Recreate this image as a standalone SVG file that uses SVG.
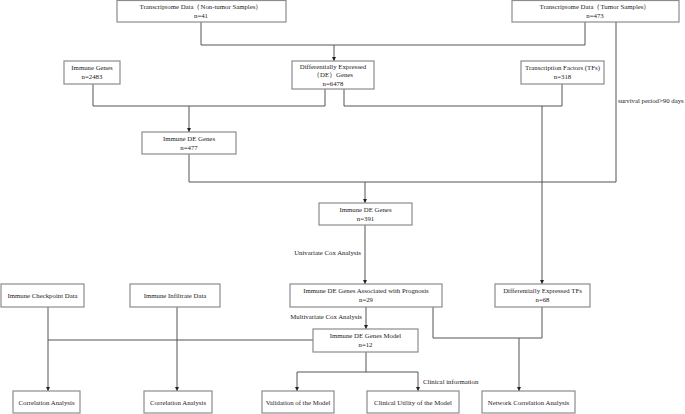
<svg xmlns="http://www.w3.org/2000/svg" width="685" height="414" viewBox="0 0 685 414">
<defs>
<marker id="ah" viewBox="0 0 6 6" refX="6" refY="3" markerWidth="4" markerHeight="4" orient="auto" markerUnits="userSpaceOnUse">
<path d="M0,0 L6,3 L0,6 Z" fill="#222"/>
</marker>
<style>
.box{fill:#fff;stroke:#8c8c8c;stroke-width:1.2}
.t{font-family:"Liberation Serif","Times New Roman",serif;font-size:6.8px;fill:#222;text-anchor:middle}
.lbl{font-family:"Liberation Serif","Times New Roman",serif;font-size:6.8px;fill:#222}
.c{fill:none;stroke:#555;stroke-width:1}
.a{fill:none;stroke:#555;stroke-width:1;marker-end:url(#ah)}
</style>
</defs>
<rect width="685" height="414" fill="#fff"/>
<g id="connectors">
<path class="c" d="M201,22 V45 H585 V22"/>
<path class="a" d="M334,45 V61"/>
<path class="c" d="M93,84 V106 H325 V89"/>
<path class="a" d="M189,106 V132"/>
<path class="c" d="M344,89 V106 H562 V84"/>
<path class="a" d="M542,106 V284"/>
<path class="c" d="M616,22 V182 H189 V154"/>
<path class="a" d="M365,182 V203"/>
<path class="a" d="M365,225 V284"/>
<path class="a" d="M366,307 V329"/>
<path class="c" d="M433,307 V338 H542 V307"/>
<path class="a" d="M519,338 V391"/>
<path class="c" d="M313,340 H48"/>
<path class="a" d="M48,307 V391"/>
<path class="a" d="M177,307 V391"/>
<path class="c" d="M366,352 V372"/>
<path class="a" d="M297,372 V391"/>
<path class="a" d="M418,372 V391"/>
<path class="c" d="M297,372 H418"/>
<text class="lbl" x="618" y="103">survival period&gt;90 days</text>
<text class="lbl" x="361" y="255" text-anchor="end">Univariate Cox Analysis</text>
<text class="lbl" x="362" y="319" text-anchor="end">Multivariate Cox Analysis</text>
<text class="lbl" x="423" y="384">Clinical information</text>
</g>
<g id="nontumor"><rect class="box" x="117" y="0.5" width="169" height="21.5"/><text class="t" x="201" y="9">Transcriptome Data（Non-tumor Samples）</text><text class="t" x="201" y="18">n=41</text></g>
<g id="tumor"><rect class="box" x="512" y="0.5" width="167" height="21.5"/><text class="t" x="595" y="9">Transcriptome Data（Tumor Samples）</text><text class="t" x="595" y="18">n=473</text></g>
<g id="immunegenes"><rect class="box" x="64" y="61" width="56" height="23"/><text class="t" x="92" y="70">Immune Genes</text><text class="t" x="92" y="79">n=2483</text></g>
<g id="degenes"><rect class="box" x="292" y="61" width="82" height="28"/><text class="t" x="333" y="68.5">Differentially Expressed</text><text class="t" x="333" y="77">（DE）Genes</text><text class="t" x="333" y="85.5">n=6478</text></g>
<g id="tfs"><rect class="box" x="521" y="61" width="83" height="23"/><text class="t" x="562.5" y="70">Transcription Factors (TFs)</text><text class="t" x="562.5" y="79">n=318</text></g>
<g id="immunede477"><rect class="box" x="142" y="132" width="94" height="22"/><text class="t" x="189" y="141">Immune DE Genes</text><text class="t" x="189" y="150">n=477</text></g>
<g id="immunede391"><rect class="box" x="319" y="203" width="93" height="22"/><text class="t" x="365.5" y="212">Immune DE Genes</text><text class="t" x="365.5" y="221">n=391</text></g>
<g id="prognosis"><rect class="box" x="290" y="284" width="152" height="23"/><text class="t" x="366" y="293">Immune DE Genes Associated with Prognosis</text><text class="t" x="366" y="302">n=29</text></g>
<g id="detfs"><rect class="box" x="495" y="284" width="95" height="23"/><text class="t" x="542.5" y="293">Differentially Expressed TFs</text><text class="t" x="542.5" y="302">n=68</text></g>
<g id="checkpoint"><rect class="box" x="1" y="284" width="83" height="23"/><text class="t" x="42.5" y="298">Immune Checkpoint Data</text></g>
<g id="infiltrate"><rect class="box" x="130" y="284" width="90" height="23"/><text class="t" x="175" y="298">Immune Infiltrate Data</text></g>
<g id="model"><rect class="box" x="313" y="329" width="105" height="23"/><text class="t" x="365.5" y="338">Immune DE Genes Model</text><text class="t" x="365.5" y="347">n=12</text></g>
<g id="corr1"><rect class="box" x="13" y="391" width="67" height="22"/><text class="t" x="46.5" y="404.5">Correlation Analysis</text></g>
<g id="corr2"><rect class="box" x="144" y="391" width="68" height="22"/><text class="t" x="178" y="404.5">Correlation Analysis</text></g>
<g id="validation"><rect class="box" x="262" y="391" width="72" height="22"/><text class="t" x="298" y="404.5">Validation of the Model</text></g>
<g id="clinical"><rect class="box" x="367" y="391" width="92" height="22"/><text class="t" x="413" y="404.5">Clinical Utility of the Model</text></g>
<g id="network"><rect class="box" x="482" y="391" width="93" height="22"/><text class="t" x="528.5" y="404.5">Network Correlation Analysis</text></g>
</svg>
